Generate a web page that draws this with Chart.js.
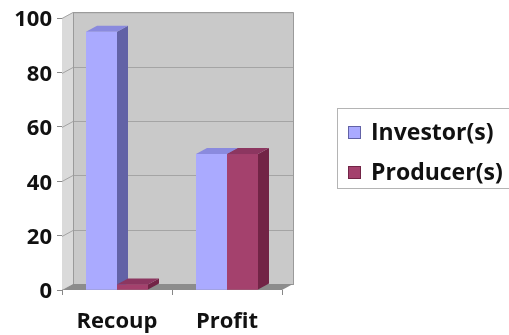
<!DOCTYPE html>
<html>
<head>
<meta charset="utf-8">
<script src="https://cdn.jsdelivr.net/npm/chart.js@4.4.1/dist/chart.umd.min.js"></script>
<style>
  html, body { margin: 0; padding: 0; background: #fff; }
  #wrap { width: 509px; height: 335px; }
</style>
</head>
<body>
<div id="wrap"><canvas id="myChart" width="509" height="335"></canvas></div>
<script>
const categories = ["Recoup", "Profit"];
const investorValues = [95, 50];
const producerValues = [2, 50];
const yTicks = [0, 20, 40, 60, 80, 100];

const seriesNames = ["Investor(s)", "Producer(s)"];
const faceColors = ["#aaaaff", "#a4416d"];
const topColors = ["#8a8ade", "#8c3660"];
const sideColors = ["#6262a6", "#722446"];

// depth offset of the 3d box
const DX = 11, DY = -6;
const FONT = "'Open Sans', Lato, sans-serif";

const box3d = {
  id: "box3d",
  beforeDatasetsDraw(chart) {
    const { ctx, chartArea: a, scales } = chart;
    const L = a.left, R = a.right, T = a.top, B = a.bottom;
    ctx.save();
    // back wall
    ctx.fillStyle = "#c9c9c9";
    ctx.fillRect(L + DX, T + DY, R - L, B - T);
    // left wall
    ctx.fillStyle = "#dadada";
    ctx.beginPath();
    ctx.moveTo(L, T); ctx.lineTo(L + DX, T + DY); ctx.lineTo(L + DX, B + DY); ctx.lineTo(L, B);
    ctx.closePath(); ctx.fill();
    // grid lines on the walls
    ctx.strokeStyle = "#a4a4a4";
    ctx.lineWidth = 1;
    yTicks.forEach(v => {
      if (v === 0) return;
      const y = Math.round(scales.y.getPixelForValue(v)) + 0.5;
      ctx.beginPath();
      ctx.moveTo(L, y); ctx.lineTo(L + DX, y + DY); ctx.lineTo(R + DX, y + DY);
      ctx.stroke();
    });
    // back wall outline
    ctx.strokeStyle = "#9a9a9a";
    ctx.strokeRect(L + DX + 0.5, T + DY + 0.5, R - L, B - T);
    // floor
    ctx.fillStyle = "#8c8c8c";
    ctx.beginPath();
    ctx.moveTo(L, B); ctx.lineTo(R, B); ctx.lineTo(R + DX, B + DY); ctx.lineTo(L + DX, B + DY);
    ctx.closePath(); ctx.fill();
    ctx.restore();
  },
  afterDatasetsDraw(chart) {
    const ctx = chart.ctx;
    ctx.save();
    chart.data.datasets.forEach((ds, i) => {
      chart.getDatasetMeta(i).data.forEach(bar => {
        const { x, y, base, width } = bar.getProps(["x", "y", "base", "width"], true);
        const l = x - width / 2, r = x + width / 2;
        // side
        ctx.fillStyle = sideColors[i];
        ctx.beginPath();
        ctx.moveTo(r, y); ctx.lineTo(r + DX, y + DY); ctx.lineTo(r + DX, base + DY); ctx.lineTo(r, base);
        ctx.closePath(); ctx.fill();
        // top
        ctx.fillStyle = topColors[i];
        ctx.beginPath();
        ctx.moveTo(l, y); ctx.lineTo(r, y); ctx.lineTo(r + DX, y + DY); ctx.lineTo(l + DX, y + DY);
        ctx.closePath(); ctx.fill();
        // front again so later series cover earlier sides
        ctx.fillStyle = faceColors[i];
        ctx.fillRect(l, y, width, base - y);
      });
    });
    ctx.restore();
  },
  afterDraw(chart) {
    const ctx = chart.ctx;
    ctx.save();
    ctx.strokeStyle = "#b4b4b4";
    ctx.lineWidth = 1;
    ctx.strokeRect(337.5, 108.5, 180, 80);
    ctx.font = "bold 23px " + FONT;
    ctx.textBaseline = "middle";
    ctx.textAlign = "left";
    const rows = [132, 172];
    chart.data.datasets.forEach((ds, i) => {
      ctx.fillStyle = faceColors[i];
      ctx.fillRect(348, rows[i] - 6, 13, 13);
      ctx.strokeStyle = sideColors[i];
      ctx.strokeRect(348.5, rows[i] - 5.5, 12, 12);
      ctx.fillStyle = "#111";
      ctx.fillText(ds.label, 371, rows[i] + 1);
    });
    ctx.restore();
  }
};

new Chart(document.getElementById("myChart"), {
  type: "bar",
  data: {
    labels: categories,
    datasets: [
      { label: seriesNames[0], data: investorValues, backgroundColor: faceColors[0], borderWidth: 0 },
      { label: seriesNames[1], data: producerValues, backgroundColor: faceColors[1], borderWidth: 0 }
    ]
  },
  options: {
    responsive: false,
    animation: false,
    events: [],
    layout: { padding: { top: 15, right: 227, left: 0, bottom: 0 } },
    categoryPercentage: 0.5636,
    barPercentage: 1,
    plugins: { legend: { display: false }, tooltip: { enabled: false } },
    scales: {
      x: {
        grid: { offset: true, drawOnChartArea: false, tickLength: 5, color: "#888" },
        border: { display: false },
        ticks: { color: "#111", padding: 14, font: { family: FONT, size: 22, weight: "bold" } },
        afterFit(s) { s.height = 45; }
      },
      y: {
        min: 0, max: 100,
        afterBuildTicks(s) { s.ticks = yTicks.map(v => ({ value: v })); },
        grid: { drawOnChartArea: false, tickLength: 5, color: "#888" },
        border: { display: true, color: "#888" },
        ticks: { color: "#111", padding: 5, labelOffset: 2, font: { family: FONT, size: 22, weight: "bold" } },
        afterFit(s) { s.width = 62; }
      }
    }
  },
  plugins: [box3d]
});
</script>
</body>
</html>
